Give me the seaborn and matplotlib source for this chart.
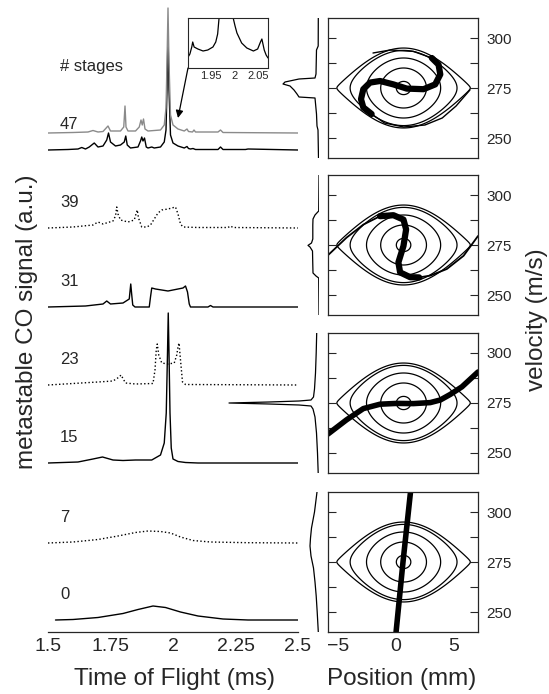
import numpy as np
import matplotlib
matplotlib.use("Agg")
import matplotlib.pyplot as plt
from matplotlib.ticker import MultipleLocator, FixedLocator, NullLocator
import seaborn as sns

W, H = 549, 694

# ---------------- time-of-flight traces (ms, signal a.u. above own baseline)
stages = [0, 7, 15, 23, 31, 39, 47]
baselines = [12, 89, 169, 247, 325, 404, 482]
gray47_base = 499

t0 = [1.53, 1.6, 1.7, 1.8, 1.86, 1.92, 1.97, 2.03, 2.1, 2.2, 2.3, 2.5]
s0 = [0, 0.5, 2.5, 6.5, 10.5, 14, 12.5, 8, 4, 1, 0, 0]

t7 = [1.5, 1.6, 1.7, 1.78, 1.85, 1.9, 1.95, 1.99, 2.03, 2.08, 2.15, 2.3, 2.5]
s7 = [0, 1, 3.5, 7, 10.5, 12, 11.5, 10, 6, 2.5, 1, 0.3, 0]

t15 = [1.5, 1.62, 1.68, 1.718, 1.76, 1.8, 1.85, 1.915, 1.95, 1.965, 1.973, 1.978,
       1.981, 1.984, 1.988, 1.993, 2.0, 2.02, 2.05, 2.1, 2.5]
s15 = [0, 1, 4, 6, 3, 2.5, 3, 3, 8, 20, 50, 110, 150, 110, 50, 15, 4, 1.5, 0.5, 0, 0]

t23 = [1.5, 1.6, 1.7, 1.76, 1.785, 1.792, 1.81, 1.85, 1.92, 1.928, 1.933, 1.937,
       1.943, 1.955, 1.98, 2.005, 2.015, 2.02, 2.024, 2.03, 2.038, 2.05, 2.5]
s23 = [0, 1.5, 3, 4, 8, 10, 2, 1, 1.5, 15, 35, 41, 30, 22, 21, 22, 30, 38, 42,
       25, 3, 0.5, 0]

t31 = [1.5, 1.65, 1.72, 1.735, 1.75, 1.8, 1.825, 1.831, 1.835, 1.839, 1.848,
       1.905, 1.91, 1.915, 1.93, 1.98, 2.04, 2.05, 2.058, 2.065, 2.07, 2.14,
       2.15, 2.16, 2.5]
s31 = [0, 1, 3, 6, 3, 4, 8, 23, 12, 2, 0, 0, 10, 19, 18, 16, 19, 21, 15, 3, 0,
       0, 1.5, 0, 0]

t39 = [1.5, 1.6, 1.68, 1.70, 1.72, 1.76, 1.77, 1.775, 1.78, 1.79, 1.82, 1.845,
       1.852, 1.857, 1.862, 1.875, 1.895, 1.91, 1.925, 1.94, 1.955, 1.98, 2.01,
       2.02, 2.03, 2.04, 2.1, 2.22, 2.23, 2.24, 2.5]
s39 = [0, 1, 3, 6, 4, 7, 12, 21, 14, 8, 6, 8, 14, 18, 10, 1, 1, 3, 9, 15, 18,
       19, 21, 14, 4, 1, 0.5, 0.5, 2, 0.5, 0]

t47 = [1.5, 1.58, 1.62, 1.635, 1.65, 1.665, 1.685, 1.70, 1.72, 1.735, 1.742,
       1.75, 1.77, 1.79, 1.805, 1.811, 1.817, 1.83, 1.86, 1.87, 1.875, 1.88,
       1.886, 1.893, 1.9, 1.915, 1.925, 1.95, 1.965, 1.972, 1.976, 1.98, 1.984,
       1.99, 2.0, 2.02, 2.045, 2.056, 2.062, 2.07, 2.08, 2.09, 2.18, 2.19, 2.2,
       2.29, 2.3, 2.5]
s47 = [0, 0.5, 1, 2.5, 1, 3, 7, 3, 4, 10, 17, 8, 4, 5, 8, 14, 5, 2, 3, 9, 13,
       9, 12, 3, 2, 3, 2, 3, 8, 20, 60, 118, 60, 15, 7, 4, 2, 3.5, 1.5, 1, 1.5,
       0.5, 0.5, 3, 0.5, 0.5, 1, 0]

t47g = [1.5, 1.6, 1.66, 1.68, 1.70, 1.72, 1.74, 1.75, 1.79, 1.803, 1.808,
        1.812, 1.82, 1.85, 1.865, 1.872, 1.877, 1.882, 1.888, 1.9, 1.95, 1.965,
        1.972, 1.976, 1.98, 1.984, 1.99, 2.0, 2.02, 2.045, 2.056, 2.062, 2.078,
        2.084, 2.09, 2.18, 2.19, 2.2, 2.5]
s47g = [0, 0.5, 1, 2.5, 1, 1.5, 7, 2, 2, 6, 27, 6, 2, 2, 6, 13, 8, 14, 4, 2,
        3, 8, 25, 70, 125, 70, 18, 8, 4, 2, 4, 1.5, 1, 3, 1, 1, 3, 0.5, 0]

# inset: zoom on the 47-stage trace
t_inset = [1.900, 1.905, 1.909, 1.911, 1.914, 1.922, 1.933, 1.943, 1.954, 1.960,
           1.964, 1.967, 1.982, 1.997, 2.001, 2.005, 2.015, 2.026, 2.04, 2.049,
           2.055, 2.058, 2.063, 2.067, 2.071]
s_inset = [10, 14, 21, 26, 21, 19, 17, 18, 21, 26, 34, 50, 300, 50, 42, 35, 25,
           20, 17, 19, 26, 29, 18, 13, 10]

# ---------------- phase space (position mm, velocity m/s)
eye_center = 0.65
eye_halfwidth = 5.95
v_sync = 275
contour_dv = [3.3, 10, 15, 18.8, 19.98]

# thick particle distributions, one per panel (top to bottom)
swath1_x = [3.10, 3.68, 3.83, 3.39, 2.38, 0.93, -0.23, -1.39, -2.26, -2.84,
            -3.04, -2.84, -2.12]
swath1_v = [290.0, 286.7, 281.8, 276.8, 274.4, 274.7, 276.8, 278.5, 277.7,
            274.4, 269.4, 265.3, 262.0]
tail1_x = [-2.12, -1.0, 0.65, 2.5, 4.0, 5.2, 6.4]
tail1_v = [262.0, 257.5, 255.5, 256.5, 260.0, 266.0, 274.0]
tail1b_x = [3.10, 1.5, -0.5, -2.0]
tail1b_v = [290.0, 293.3, 294.0, 292.5]

swath2_x = [-1.39, -0.23, 0.64, 0.87, 0.64, 0.2, 0.35, 1.22, 2.0]
swath2_v = [289.4, 289.9, 287.7, 282.8, 274.5, 266.3, 261.3, 258.9, 258.8]
tail2_x = [-5.9, -4.29, -2.84, -1.39]
tail2_v = [269.9, 278.7, 285.2, 289.4]
tail2b_x = [2.0, 2.96, 4.4, 5.85, 7.1]
tail2b_v = [258.8, 259.7, 263.0, 269.6, 279.5]

swath3_x = [-5.9, -4.29, -2.84, -1.39, 0.06, 1.5, 2.96, 3.83, 4.7, 5.71, 7.1]
swath3_v = [259.5, 266.6, 272.2, 274.4, 274.8, 274.7, 275.2, 276.5, 279.3,
            283.1, 290.5]

swath4_x = [0.0, 0.6, 1.25]
swath4_v = [240, 275, 310]

# velocity distributions (left of each panel), height in a.u.
prof1_v = [310, 296, 294, 282, 280, 279.5, 278, 277, 276, 274, 272, 270.5, 270,
           262, 256, 254, 240]
prof1_d = [0.7, 0.8, 2.5, 3, 4, 20, 34, 36, 29, 25, 22, 20, 4, 2.5, 2, 1, 0.5]
prof2_v = [310, 292, 290, 288, 285, 278, 276, 274.8, 274, 272, 265, 261, 259.5,
           258.5, 240]
prof2_d = [0, 0.3, 4, 6, 6.2, 6.2, 7.5, 11, 9, 6.5, 6.2, 6, 3, 0.3, 0]
prof3_v = [310, 300, 290, 282, 278, 276.5, 276, 275.5, 275, 274.5, 274, 273.5,
           272, 268, 260, 250, 240]
prof3_d = [2.3, 2.8, 3.5, 4.5, 5.5, 8, 20, 50, 90, 50, 20, 8, 6, 4, 2.5, 1.5, 0.8]
prof4_v = [310, 300, 292, 287, 283, 278, 272, 265, 258, 250, 240]
prof4_d = [2, 4.5, 7.5, 8.5, 9, 8, 5.5, 4, 2.8, 1.8, 0.7]


def px_axes(fig, left, top, width, height):
    return fig.add_axes([left / W, 1 - (top + height) / H, width / W, height / H])


sns.set_style("white")
plt.rcParams['font.family'] = ['Liberation Sans', 'DejaVu Sans']

fig = plt.figure(figsize=(W / 100, H / 100), dpi=100)

# ---------------- left: time of flight
ax = px_axes(fig, 48, 0, 250, 632)
ax.set_facecolor('none')
ax.set_xlim(1.5, 2.5)
ax.set_ylim(0, 632)
for s in ['left', 'right', 'top']:
    ax.spines[s].set_visible(False)
ax.spines['bottom'].set_linewidth(0.9)
ax.xaxis.set_minor_locator(MultipleLocator(0.125))
ax.set_xticks([1.5, 1.75, 2, 2.25, 2.5], ['1.5', '1.75', '2', '2.25', '2.5'])
ax.yaxis.set_major_locator(NullLocator())
ax.tick_params(axis='x', which='major', direction='in', length=7.2, width=0.8,
               labelsize=14, pad=4.5)
ax.tick_params(axis='x', which='minor', direction='in', length=3.6, width=0.8)

traces = [(t0, s0, '-'), (t7, s7, ':'), (t15, s15, '-'), (t23, s23, ':'),
          (t31, s31, '-'), (t39, s39, ':'), (t47, s47, '-')]
for (tt, ss, ls), base, st in zip(traces, baselines, stages):
    sns.lineplot(x=tt, y=np.array(ss) + base, ax=ax, color='black',
                 linestyle=ls, linewidth=1.0, estimator=None)
    ax.text(1.548, base + 21, str(st), fontsize=12, ha='left', va='baseline')
sns.lineplot(x=t47g, y=np.array(s47g) + gray47_base, ax=ax, color='#8a8a8a',
             linewidth=1.0, estimator=None)
ax.text(1.548, 561, '# stages', fontsize=12, ha='left', va='baseline')

ax.annotate('', xy=(2.02, 514), xytext=(2.06, 564),
            arrowprops=dict(arrowstyle='-|>', color='black', lw=0.9,
                            mutation_scale=11, shrinkA=0, shrinkB=0),
            annotation_clip=False)

# inset
ins = px_axes(fig, 188, 18, 80, 50)
ins.set_xlim(1.901, 2.071)
ins.set_ylim(0, 50)
sns.lineplot(x=t_inset, y=s_inset, ax=ins, color='black', linewidth=0.9,
             estimator=None)
ins.set_xticks([1.95, 2.0, 2.05], ['1.95', '2', '2.05'])
ins.xaxis.set_minor_locator(FixedLocator([1.925, 1.975, 2.025]))
ins.set_yticks([])
ins.tick_params(axis='x', which='major', direction='in', length=5, width=0.8,
                labelsize=8, pad=2.5)
ins.tick_params(axis='x', which='minor', direction='in', length=5, width=0.8)
for s in ins.spines.values():
    s.set_linewidth(0.8)

# ---------------- right: phase space panels
gx = np.linspace(eye_center - eye_halfwidth, eye_center + eye_halfwidth, 900)
gv = np.linspace(240, 310, 700)
GX, GV = np.meshgrid(gx, gv)
Ham = (GV - v_sync) ** 2 + 20.0 ** 2 * np.sin(np.pi * (GX - eye_center) /
                                              (2 * eye_halfwidth)) ** 2
levels = [d ** 2 for d in contour_dv]

panel_tops = [18, 175, 333, 492]
swaths = [
    [(swath1_x, swath1_v, 4.5), (tail1_x, tail1_v, 1.0), (tail1b_x, tail1b_v, 1.0)],
    [(swath2_x, swath2_v, 4.5), (tail2_x, tail2_v, 1.3), (tail2b_x, tail2b_v, 1.3)],
    [(swath3_x, swath3_v, 4.0)],
    [(swath4_x, swath4_v, 4.0)],
]
profiles = [(prof1_d, prof1_v), (prof2_d, prof2_v), (prof3_d, prof3_v),
            (prof4_d, prof4_v)]

for i, top in enumerate(panel_tops):
    pa = px_axes(fig, 219, top, 100, 140)
    pa.set_xlim(100, 0)
    pa.set_ylim(240, 310)
    pa.axis('off')
    sns.lineplot(x=profiles[i][0], y=profiles[i][1], ax=pa, color='black',
                 linewidth=0.9, sort=False, estimator=None)

    ph = px_axes(fig, 328, top, 150, 140)
    ph.set_facecolor('none')
    ph.set_xlim(-5.9, 7.1)
    ph.set_ylim(240, 310)
    ph.contour(GX, GV, Ham, levels=levels, colors='black', linewidths=0.9)
    for xs, vs, lw in swaths[i]:
        sns.lineplot(x=xs, y=vs, ax=ph, color='black', linewidth=lw,
                     sort=False, estimator=None, solid_capstyle='round')
    for s in ph.spines.values():
        s.set_linewidth(0.9)
    ph.set_yticks([250, 275, 300])
    ph.yaxis.set_minor_locator(FixedLocator([262.5, 287.5]))
    ph.tick_params(axis='y', which='both', direction='in', left=True, right=True,
                   labelleft=False, labelright=True, length=5.8, width=0.8,
                   labelsize=11, pad=6)
    if i == 3:
        ph.set_xticks([-5, 0, 5])
        ph.xaxis.set_minor_locator(MultipleLocator(1))
        ph.tick_params(axis='x', which='major', direction='in', length=5.8,
                       width=0.8, labelsize=14, pad=4.5)
        ph.tick_params(axis='x', which='minor', direction='in', length=3.6,
                       width=0.8)
    else:
        ph.set_xticks([])
    ph.set_xlabel('')
    ph.set_ylabel('')

fig.text(174 / W, 1 - 685 / H, 'Time of Flight (ms)', fontsize=17.5,
         ha='center', va='baseline')
fig.text(402 / W, 1 - 685 / H, 'Position (mm)', fontsize=17.5,
         ha='center', va='baseline')
fig.text(27 / W, 1 - 322 / H, 'metastable CO signal (a.u.)', fontsize=17.5,
         rotation=90, ha='center', va='center')
fig.text(537 / W, 1 - 320 / H, 'velocity (m/s)', fontsize=17.5,
         rotation=90, ha='center', va='center')

fig.savefig('out.png', dpi=100)
